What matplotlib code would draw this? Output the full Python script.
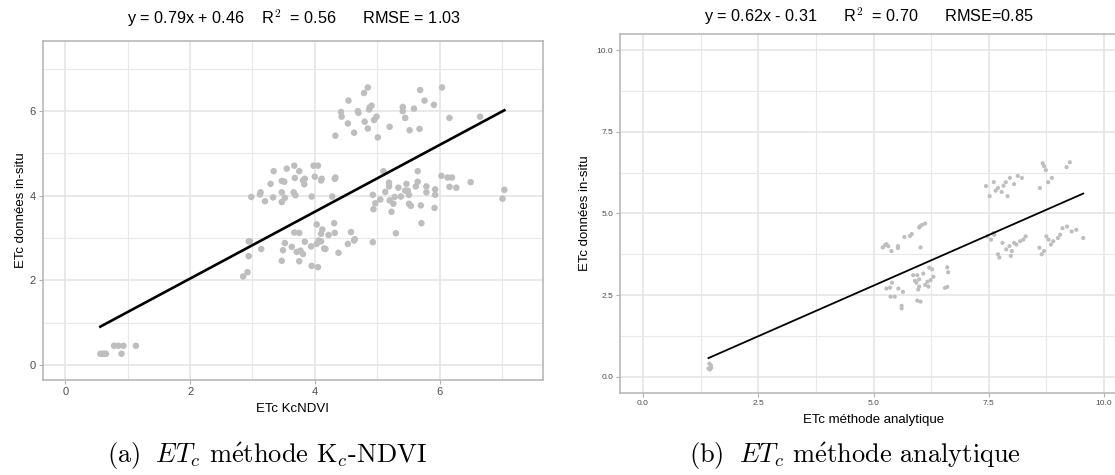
import numpy as np
import matplotlib
matplotlib.use("Agg")
import matplotlib.pyplot as plt
from matplotlib.ticker import MultipleLocator

plt.rcParams['font.family'] = ['Liberation Sans', 'DejaVu Sans']
plt.rcParams['mathtext.fontset'] = 'cm'

# ---------------- data: panel (a) ETc KcNDVI vs in-situ ----------------
a_x = [4.85, 4.79, 4.54, 4.42, 4.43, 4.69, 4.70, 4.88, 4.91, 4.87, 4.53, 4.80, 4.95, 4.99, 4.85, 4.63,
       4.33, 5.01, 5.20, 5.41, 5.41, 5.45, 5.59, 5.69, 5.76, 5.91, 6.04, 6.16, 6.65, 5.52, 5.68,
       3.34, 3.55, 3.67, 3.75, 3.98, 4.05, 4.00, 4.11, 4.10, 4.32, 4.33, 3.29, 3.47, 3.51, 3.68, 3.81,
       3.84, 3.83, 3.13, 3.12, 2.98, 3.20, 3.33, 3.47, 3.66, 3.69, 3.52, 3.47, 3.95, 4.28,
       5.10, 5.19, 5.19, 5.13, 4.93, 5.34, 5.47, 5.45, 5.49, 5.62, 5.65, 5.65, 5.79, 5.93, 5.93, 5.79,
       5.51, 5.38, 5.28, 5.20, 5.26, 5.05, 4.97, 4.94, 5.23, 5.51, 5.54, 5.70, 5.92, 6.03, 6.13, 6.20,
       6.16, 6.27, 6.50, 7.04, 7.01, 5.71, 5.30, 4.93,
       2.94, 2.96, 2.94, 3.14, 3.52, 3.49, 3.63, 3.71, 3.77, 3.84, 3.81, 3.67, 3.75, 3.94, 4.03, 4.03,
       4.06, 4.10, 4.12, 4.10, 4.22, 4.31, 4.32, 4.15, 4.17, 4.38, 4.58, 4.53, 4.63, 4.64, 3.47, 3.75,
       3.95, 4.05, 2.85, 2.92,
       0.56, 0.59, 0.62, 0.65, 0.90, 0.78, 0.85, 0.93, 1.13]
a_y = [6.56, 6.43, 6.25, 5.98, 5.87, 6.00, 5.96, 6.09, 6.13, 6.04, 5.71, 5.75, 5.79, 5.87, 5.59, 5.49,
       5.42, 5.38, 5.63, 6.10, 6.00, 5.84, 6.06, 6.50, 6.25, 6.15, 6.56, 5.84, 5.87, 5.55, 5.58,
       4.58, 4.64, 4.71, 4.58, 4.71, 4.71, 4.45, 4.40, 4.36, 4.40, 4.43, 4.28, 4.35, 4.33, 4.42, 4.36,
       4.40, 4.27, 4.08, 4.03, 3.97, 3.87, 3.96, 4.08, 4.08, 4.01, 3.95, 3.85, 3.98, 3.98,
       4.58, 4.31, 4.22, 4.09, 4.02, 4.19, 4.28, 4.12, 4.12, 4.22, 4.33, 4.58, 4.22, 4.15, 4.02, 4.08,
       4.02, 3.98, 3.97, 3.89, 3.81, 3.91, 3.82, 3.68, 3.62, 3.81, 3.76, 3.77, 3.71, 4.47, 4.43, 4.43,
       4.21, 4.19, 4.32, 4.14, 3.93, 3.35, 3.11, 2.90,
       2.92, 2.92, 2.57, 2.74, 2.88, 2.71, 2.79, 2.67, 2.70, 2.91, 2.62, 3.13, 3.12, 2.80, 3.32, 2.86,
       2.94, 3.10, 3.20, 2.92, 3.07, 3.35, 3.12, 2.75, 2.74, 2.65, 3.14, 2.86, 2.94, 2.97, 2.46, 2.45,
       2.34, 2.31, 2.09, 2.19,
       0.26, 0.26, 0.26, 0.26, 0.26, 0.45, 0.45, 0.45, 0.45]
a_fit = [0.79, 0.46]          # slope, intercept
a_title = "y = 0.79x + 0.46    R$^\\mathsf{2}$  = 0.56      RMSE = 1.03"
a_xlabel = "ETc KcNDVI"
a_ticks = [0, 2, 4, 6]
a_caption = "(a) $\\;ET_c$ m$\\mathrm{\\acute{e}}$thode K$_c$-NDVI"

# ---------------- data: panel (b) ETc analytique vs in-situ ----------------
b_x = [1.42, 1.45, 1.48, 1.44, 1.47,
       5.25, 5.20, 5.28, 5.32, 5.39, 5.53, 5.53, 5.67, 5.79, 5.83, 5.99, 6.05, 6.12, 6.01, 6.02,
       5.40, 5.28, 5.36, 5.54, 5.64, 5.37, 5.46, 5.61, 5.61, 5.86, 5.95, 5.99, 6.08, 6.17, 6.24, 6.30,
       5.90, 5.93, 5.99, 6.12, 6.19, 5.97, 5.95, 6.02, 6.21, 6.27, 6.60, 6.62, 6.60, 6.55,
       7.44, 7.52, 7.61, 7.70, 7.78, 7.87, 7.96, 8.05, 8.13, 8.22, 7.91, 7.65, 7.82,
       8.67, 8.74, 8.79, 8.87, 8.61, 9.19, 9.26, 8.70,
       7.47, 7.55, 7.62, 7.70, 7.73, 7.80, 7.88, 7.95, 8.00, 8.05, 8.10, 8.18, 8.25, 8.30, 7.60, 7.98,
       8.60, 8.65, 8.70, 8.75, 8.80, 8.90, 9.00, 9.10, 9.20, 9.30, 9.40, 9.55, 8.85, 9.05]
b_y = [0.25, 0.22, 0.27, 0.40, 0.35,
       4.03, 3.96, 4.06, 4.00, 3.85, 4.00, 3.94, 4.28, 4.31, 4.37, 4.57, 4.65, 4.69, 4.61, 3.96,
       2.88, 2.70, 2.73, 2.70, 2.60, 2.45, 2.45, 2.17, 2.09, 3.11, 3.11, 2.98, 3.16, 2.91, 2.96, 3.06,
       2.94, 2.88, 2.76, 2.81, 2.76, 2.67, 2.33, 2.30, 3.34, 3.29, 3.35, 3.20, 2.75, 2.72,
       5.84, 5.53, 5.96, 5.78, 5.66, 5.96, 6.09, 5.90, 6.15, 6.09, 5.53, 5.70, 5.85,
       6.54, 6.33, 5.96, 6.09, 5.78, 6.42, 6.57, 6.45,
       4.30, 4.20, 4.35, 3.75, 3.65, 4.10, 3.90, 4.00, 3.85, 4.10, 4.05, 4.15, 4.20, 4.30, 4.40, 3.70,
       3.95, 3.75, 3.85, 4.30, 4.20, 4.15, 4.25, 4.55, 4.60, 4.45, 4.50, 4.25, 4.05, 4.35]
b_fit = [0.62, -0.31]
b_title = "y = 0.62x - 0.31      R$^\\mathsf{2}$  = 0.70      RMSE=0.85"
b_xlabel = "ETc méthode analytique"
b_ticks = [0.0, 2.5, 5.0, 7.5, 10.0]
b_caption = "(b) $\\;ET_c$ m$\\mathrm{\\acute{e}}$thode analytique"

ylabel = "ETc données in-situ"

W, H = 1115, 475
fig = plt.figure(figsize=(W / 100, H / 100), dpi=100)


def px_axes(l, r, t, b):
    return fig.add_axes([l / W, 1 - b / H, (r - l) / W, (b - t) / H])


def style(ax, lim, ticks, minor, tick_fs, fmt):
    ax.set_xlim(lim)
    ax.set_ylim(lim)
    ax.set_xticks(ticks)
    ax.set_yticks(ticks)
    ax.set_xticklabels([fmt.format(t) for t in ticks])
    ax.set_yticklabels([fmt.format(t) for t in ticks])
    ax.xaxis.set_minor_locator(MultipleLocator(minor))
    ax.yaxis.set_minor_locator(MultipleLocator(minor))
    ax.grid(True, which='major', color='#E3E3E3', lw=1.1)
    ax.grid(True, which='minor', color='#E8E8E8', lw=0.8)
    ax.set_axisbelow(True)
    for s in ax.spines.values():
        s.set_color('#B3B3B3')
        s.set_linewidth(1.1)
    ax.tick_params(which='major', length=3, width=0.8, color='#B3B3B3',
                   labelsize=tick_fs, labelcolor='#4D4D4D', pad=2)
    ax.tick_params(which='minor', length=0)


# ---- panel (a)
ax1 = px_axes(43, 543, 41, 380)
style(ax1, (-0.36, 7.66), a_ticks, 1, 8, "{:g}")
ax1.scatter(a_x, a_y, s=22, color='#BEBEBE', edgecolors='none', zorder=2)
xs = np.array([min(a_x), max(a_x)])
ax1.plot(xs, a_fit[0] * xs + a_fit[1], color='black', lw=1.9, zorder=3)
ax1.set_xlabel(a_xlabel, fontsize=9.5, labelpad=4)
ax1.set_ylabel(ylabel, fontsize=9.5, labelpad=2)
fig.text(293.5 / W, 1 - 18 / H, a_title, ha='center', va='center', fontsize=11.7)
fig.text(267 / W, 1 - 456 / H, a_caption, ha='center', va='center', fontsize=19,
         family='cmr10')

# ---- panel (b)
ax2 = px_axes(620, 1127, 34, 393)
style(ax2, (-0.5, 10.5), b_ticks, 1.25, 6, "{:.1f}")
ax2.scatter(b_x, b_y, s=9, color='#BEBEBE', edgecolors='none', zorder=2)
xs = np.array([min(b_x), max(b_x)])
ax2.plot(xs, b_fit[0] * xs + b_fit[1], color='black', lw=1.3, zorder=3)
ax2.set_xlabel(b_xlabel, fontsize=9.5, labelpad=5)
ax2.set_ylabel(ylabel, fontsize=9.5, labelpad=4)
fig.text(869 / W, 1 - 16 / H, b_title, ha='center', va='center', fontsize=11.7)
fig.text(855 / W, 1 - 456 / H, b_caption, ha='center', va='center', fontsize=19,
         family='cmr10')

fig.savefig("out.png", dpi=100)
